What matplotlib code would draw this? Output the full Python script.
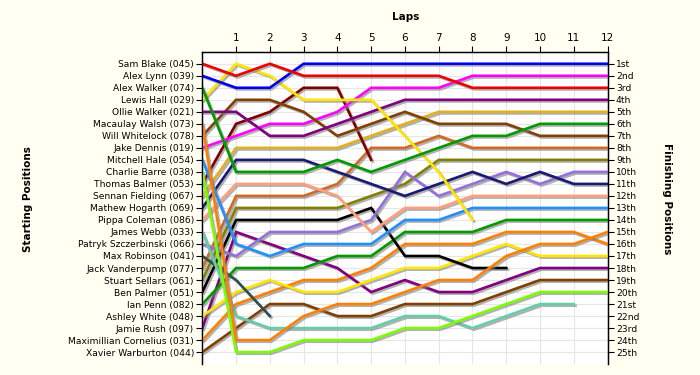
import matplotlib
matplotlib.use("Agg")
import matplotlib.pyplot as plt
import matplotlib.patheffects as pe

# drivers in starting order
drivers = [
    "Sam Blake (045)", "Alex Lynn (039)", "Alex Walker (074)", "Lewis Hall (029)",
    "Ollie Walker (021)", "Macaulay Walsh (073)", "Will Whitelock (078)",
    "Jake Dennis (019)", "Mitchell Hale (054)", "Charlie Barre (038)",
    "Thomas Balmer (053)", "Sennan Fielding (067)", "Mathew Hogarth (069)",
    "Pippa Coleman (086)", "James Webb (033)", "Patryk Szczerbinski (066)",
    "Max Robinson (041)", "Jack Vanderpump (077)", "Stuart Sellars (061)",
    "Ben Palmer (051)", "Ian Penn (082)", "Ashley White (048)",
    "Jamie Rush (097)", "Maximillian Cornelius (031)", "Xavier Warburton (044)",
]

# position at each lap (lap 0 = grid), shorter lists = retired
sam_blake = [1, 2, 1, 2, 2, 2, 2, 2, 3, 3, 3, 3, 3]
alex_lynn = [2, 3, 3, 1, 1, 1, 1, 1, 1, 1, 1, 1, 1]
alex_walker = [3, 10, 10, 10, 9, 10, 9, 8, 7, 7, 6, 6, 6]
lewis_hall = [4, 1, 2, 4, 4, 4, 7, 10, 14]
ollie_walker = [5, 5, 7, 7, 6, 5, 4, 4, 4, 4, 4, 4, 4]
macaulay_walsh = [6, 24, 24, 22, 21, 21, 20, 19, 19, 17, 16, 16, 15]
will_whitelock = [7, 4, 4, 5, 7, 6, 5, 6, 6, 6, 7, 7, 7]
jake_dennis = [8, 7, 6, 6, 5, 3, 3, 3, 2, 2, 2, 2, 2]
mitchell_hale = [9, 16, 17, 16, 16, 16, 14, 14, 13, 13, 13, 13, 13]
charlie_barre = [10, 25, 25, 24, 24, 24, 23, 23, 22, 21, 20, 20, 20]
thomas_balmer = [11, 6, 5, 3, 3, 9]
sennan_fielding = [12, 8, 8, 8, 8, 7, 6, 5, 5, 5, 5, 5, 5]
mathew_hogarth = [13, 9, 9, 9, 10, 11, 12, 11, 10, 11, 10, 11, 11]
pippa_coleman = [14, 11, 11, 11, 12, 15, 13, 13, 12, 12, 12, 12, 12]
james_webb = [15, 22, 23, 23, 23, 23, 22, 22, 23, 22, 21, 21]
patryk_szczerbinski = [16, 17, 15, 15, 15, 14, 10, 12, 11, 10, 11, 10, 10]
max_robinson = [17, 19, 22]
jack_vanderpump = [18, 12, 12, 12, 11, 8, 8, 7, 8, 8, 8, 8, 8]
stuart_sellars = [19, 13, 13, 13, 13, 12, 11, 9, 9, 9, 9, 9, 9]
ben_palmer = [20, 14, 14, 14, 14, 13, 17, 17, 18, 18]
ian_penn = [21, 18, 18, 18, 17, 17, 15, 15, 15, 14, 14, 14, 14]
ashley_white = [22, 20, 19, 20, 20, 19, 18, 18, 17, 16, 17, 17, 17]
jamie_rush = [23, 15, 16, 17, 18, 20, 19, 20, 20, 19, 18, 18, 18]
maximillian_cornelius = [24, 21, 20, 19, 19, 18, 16, 16, 16, 15, 15, 15, 16]
xavier_warburton = [25, 23, 21, 21, 22, 22, 21, 21, 21, 20, 19, 19, 19]

colors = [
    "#ee0000", "#0000ee", "#009900", "#ffe600", "#800080", "#ff8000",
    "#804000", "#ff00ff", "#1e90ff", "#7cfc00", "#800000", "#e0b020",
    "#1a1a70", "#ffa07a", "#66cdaa", "#9370db", "#2f4f4f", "#d2691e",
    "#808000", "#000000", "#009900", "#ffe600", "#800080", "#ff8000",
    "#804000",
]

lap_positions = [
    sam_blake, alex_lynn, alex_walker, lewis_hall, ollie_walker, macaulay_walsh,
    will_whitelock, jake_dennis, mitchell_hale, charlie_barre, thomas_balmer,
    sennan_fielding, mathew_hogarth, pippa_coleman, james_webb,
    patryk_szczerbinski, max_robinson, jack_vanderpump, stuart_sellars,
    ben_palmer, ian_penn, ashley_white, jamie_rush, maximillian_cornelius,
    xavier_warburton,
]

n_laps = 12
n_pos = len(drivers)


def ordinal(n):
    if n % 100 in (11, 12, 13):
        return f"{n}th"
    return f"{n}{ {1: 'st', 2: 'nd', 3: 'rd'}.get(n % 10, 'th') }".replace(" ", "")


finish_labels = [ordinal(i) for i in range(1, n_pos + 1)]

fig = plt.figure(figsize=(7, 3.75), dpi=100, facecolor="#fffff2")
ax = fig.add_axes([0.289, 0.029, 0.579, 0.833])
ax.set_facecolor("white")

shadow = [pe.SimpleLineShadow(offset=(1.2, -1.2), shadow_color="#808080", alpha=0.6),
          pe.Normal()]

for pos, col in zip(reversed(lap_positions), reversed(colors)):
    ax.plot(range(len(pos)), pos, color=col, lw=1.9, solid_joinstyle="miter",
            path_effects=shadow, zorder=3)

ax.set_xlim(0, n_laps)
ax.set_ylim(26, 0)

ax.set_xticks(range(1, n_laps + 1))
ax.xaxis.tick_top()
ax.tick_params(axis="x", labelsize=7.5, length=4, pad=2)

ax.set_yticks(range(1, n_pos + 1))
ax.set_yticklabels(drivers, fontsize=6.6)
ax.tick_params(axis="y", length=4, pad=2)

ax.set_xticks(range(0, n_laps + 1), minor=True)
ax.grid(True, which="both", color="#e6e6e6", lw=0.8, zorder=0)
ax.tick_params(axis="x", which="minor", length=0)

ax.spines["bottom"].set_visible(False)
for s in ("left", "right", "top"):
    ax.spines[s].set_linewidth(1.0)

ax2 = ax.twinx()
ax2.set_ylim(26, 0)
ax2.set_yticks(range(1, n_pos + 1))
ax2.set_yticklabels(finish_labels, fontsize=6.6)
ax2.tick_params(axis="y", length=4, pad=2)
ax2.spines["bottom"].set_visible(False)

fig.text(0.579, 0.955, "Laps", ha="center", va="center", fontsize=7.5,
         fontweight="bold")
fig.text(0.04, 0.47, "Starting Positions", ha="center", va="center",
         rotation=90, fontsize=7.5, fontweight="bold")
fig.text(0.953, 0.47, "Finishing Positions", ha="center", va="center",
         rotation=270, fontsize=7.5, fontweight="bold")

fig.savefig("out.png", dpi=100, facecolor=fig.get_facecolor())
